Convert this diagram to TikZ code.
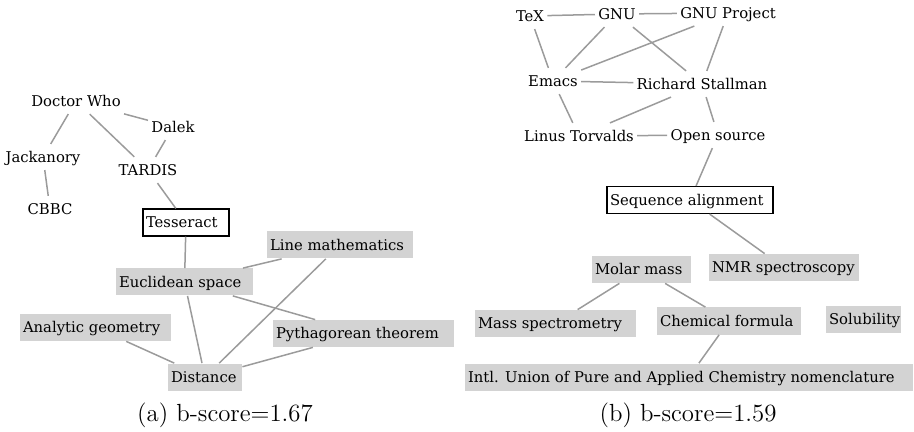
\documentclass[tikz,border=0pt]{standalone}
\usepackage{fontspec}
\usepackage{tikz}
\usetikzlibrary{positioning}
\newfontfamily\termfont{DejaVu Serif}
\definecolor{boxgray}{RGB}{211,211,211}
\definecolor{linkgray}{RGB}{155,155,155}
\newcommand{\padded}[2]{\makebox[#1][l]{#2}}
\tikzset
{
    termnode/.style = {font=\fontsize{7.4}{9}\termfont, inner sep=1.5pt, text height=0.75em, text depth=0.22em},
    hitnode/.style  = {termnode, fill=boxgray, inner xsep=1.5pt, inner ysep=0pt, minimum height=13.5pt},
    seednode/.style = {termnode, draw=black, line width=0.6pt, fill=white, inner xsep=1.5pt, inner ysep=0pt, minimum height=13.5pt},
    link/.style     = {draw=linkgray, line width=0.75pt},
    caption/.style  = {font=\fontsize{12.4}{14}\selectfont, inner sep=0pt}
}

\begin{document}
\begin{tikzpicture}[x=0.5pt, y=-0.5pt]
    \useasboundingbox (0,0) rectangle (914,432);

    % (a) Tesseract
    \node [termnode] (doctor)    at (76,101)  {Doctor Who};
    \node [termnode] (dalek)     at (173,127) {Dalek};
    \node [termnode] (jackanory) at (43,157)  {Jackanory};
    \node [termnode] (tardis)    at (148,170) {TARDIS};
    \node [termnode] (cbbc)      at (50,209)  {CBBC};
    \node [seednode] (tesseract) at (186,222.5) {\padded{40pt}{Tesseract}};
    \node [hitnode]  (linemath)  at (340,245)   {\padded{70pt}{Line mathematics}};
    \node [hitnode]  (euclid)    at (184.5,282) {\padded{65.5pt}{Euclidean space}};
    \node [hitnode]  (analytic)  at (95.5,327.5) {\padded{72.5pt}{Analytic geometry}};
    \node [hitnode]  (pythagoras) at (363.5,333.5) {\padded{87.5pt}{Pythagorean theorem}};
    \node [hitnode]  (distance)  at (205,377)   {\padded{34pt}{Distance}};

    \draw [link] (doctor) -- (jackanory);
    \draw [link] (doctor) -- (tardis);
    \draw [link] (doctor) -- (dalek);
    \draw [link] (dalek) -- (tardis);
    \draw [link] (jackanory) -- (cbbc);
    \draw [link] (tardis) -- (tesseract);
    \draw [link] (tesseract) -- (euclid);
    \draw [link] (euclid) -- (linemath);
    \draw [link] (euclid) -- (pythagoras);
    \draw [link] (euclid) -- (distance);
    \draw [link] (linemath) -- (distance);
    \draw [link] (analytic) -- (distance);
    \draw [link] (pythagoras) -- (distance);

    \node [caption] (capa) at (225,415) {(a) b-score=1.67};

    % (b) Sequence alignment
    \node [termnode] (tex)      at (530,16)  {TeX};
    \node [termnode] (gnu)      at (617,14)  {GNU};
    \node [termnode] (gnuproj)  at (728,13)  {GNU Project};
    \node [termnode] (emacs)    at (553,81)  {Emacs};
    \node [termnode] (rms)      at (702,84)  {Richard Stallman};
    \node [termnode] (linus)    at (579,136) {Linus Torvalds};
    \node [termnode] (opensrc)  at (718,135) {Open source};
    \node [seednode] (seqalign) at (690,200) {\padded{80pt}{Sequence alignment}};
    \node [hitnode]  (molar)    at (641.5,269.5) {\padded{46.5pt}{Molar mass}};
    \node [hitnode]  (nmr)      at (784,267.5)   {\padded{72pt}{NMR spectroscopy}};
    \node [hitnode]  (massspec) at (555.5,323.5) {\padded{77.5pt}{Mass spectrometry}};
    \node [hitnode]  (chemform) at (729,321)     {\padded{69pt}{Chemical formula}};
    \node [hitnode]  (solub)    at (863.5,319.5) {\padded{34.5pt}{Solubility}};
    \node [hitnode]  (iupac)    at (689,377)     {\padded{221pt}{Intl. Union of Pure and Applied Chemistry nomenclature}};

    \draw [link] (tex) -- (gnu);
    \draw [link] (gnu) -- (gnuproj);
    \draw [link] (tex) -- (emacs);
    \draw [link] (gnu) -- (emacs);
    \draw [link] (gnuproj) -- (emacs);
    \draw [link] (gnu) -- (rms);
    \draw [link] (gnuproj) -- (rms);
    \draw [link] (emacs) -- (rms);
    \draw [link] (emacs) -- (linus);
    \draw [link] (rms) -- (linus);
    \draw [link] (rms) -- (opensrc);
    \draw [link] (linus) -- (opensrc);
    \draw [link] (opensrc) -- (seqalign);
    \draw [link] (seqalign) -- (nmr);
    \draw [link] (molar) -- (massspec);
    \draw [link] (molar) -- (chemform);
    \draw [link] (chemform) -- (iupac);

    \node [caption] (capb) at (688,415) {(b) b-score=1.59};
\end{tikzpicture}
\end{document}
